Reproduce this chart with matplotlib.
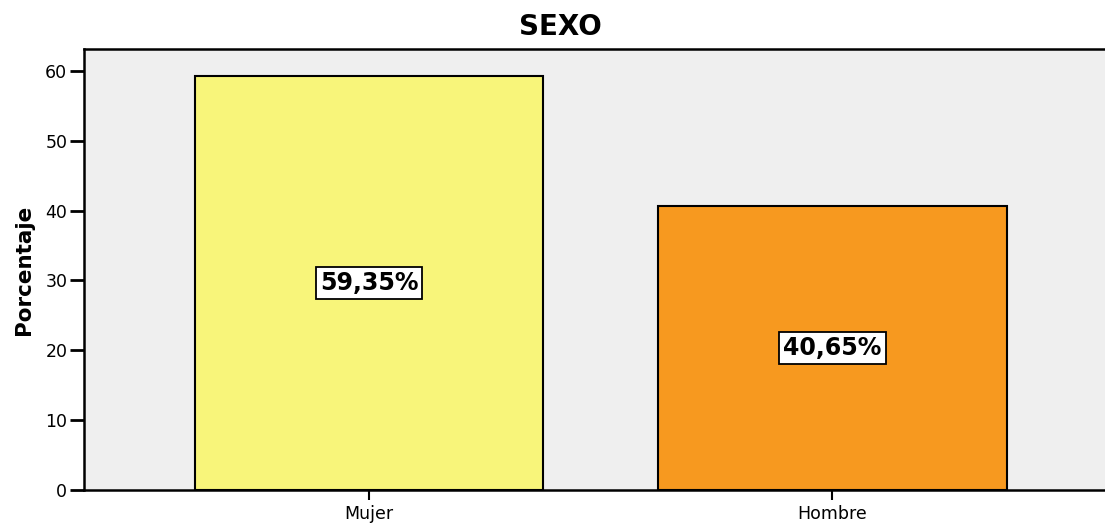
import matplotlib
matplotlib.use("Agg")
import matplotlib.pyplot as plt

plt.rcParams['font.family'] = ['DejaVu Sans']

categories = ["Mujer", "Hombre"]
values = [59.35, 40.65]
value_labels = ["59,35%", "40,65%"]
colors = ["#F8F57A", "#F7991F"]

fig = plt.figure(figsize=(11.05, 5.24), dpi=100)
ax = fig.add_axes([0.076, 0.065, 0.924, 0.8415])
ax.set_facecolor("#EFEFEF")

x = list(range(len(categories)))
ax.bar(x, values, width=0.751, color=colors, edgecolor="black", linewidth=1.5, zorder=2)

for xi, v, lab in zip(x, values, value_labels):
    ax.text(xi, v / 2, lab, ha="center", va="center", fontsize=17, fontweight="bold",
            bbox=dict(boxstyle="square,pad=0.17", facecolor="white", edgecolor="black", linewidth=1.3),
            zorder=3)

ax.set_xlim(-0.615, 1.588)
ax.set_ylim(0, 63.15)
ax.set_yticks([0, 10, 20, 30, 40, 50, 60])
ax.set_xticks(x)
ax.set_xticklabels(categories)
ax.tick_params(axis="y", length=10, width=2, labelsize=12.5, pad=2)
ax.tick_params(axis="x", length=7, width=1.5, labelsize=12.5, pad=4)

for s in ["left", "bottom", "top"]:
    ax.spines[s].set_linewidth(1.8)
ax.spines["right"].set_visible(False)

ax.set_ylabel("Porcentaje", fontsize=15.5, fontweight="bold", labelpad=8)
fig.text(0.507, 0.933, "SEXO", ha="center", va="baseline", fontsize=20, fontweight="bold")

fig.savefig("out.png", dpi=100)
